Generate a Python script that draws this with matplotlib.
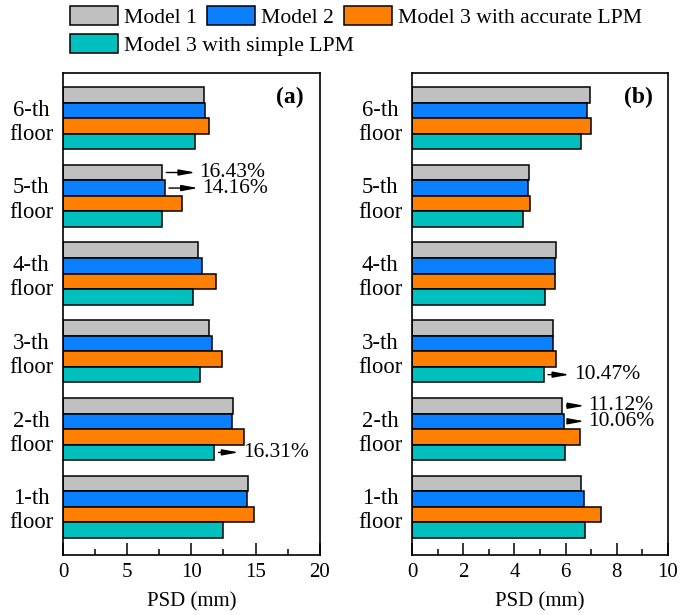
import matplotlib
matplotlib.use("Agg")
import matplotlib.pyplot as plt
from matplotlib.patches import Patch
from matplotlib.ticker import MultipleLocator
import numpy as np

plt.rcParams['font.family'] = ['Liberation Serif', 'DejaVu Serif']
plt.rcParams['font.size'] = 15

floors = ["1-th\nfloor", "2-th\nfloor", "3-th\nfloor", "4-th\nfloor", "5-th\nfloor", "6-th\nfloor"]
models = ["Model 1", "Model 2", "Model 3 with accurate LPM", "Model 3 with simple LPM"]
colors = ["#C0C0C0", "#0A80FF", "#FF8000", "#00BFBF"]

# panel (a), floors 1..6
model1_a = [14.4, 13.25, 11.4, 10.5, 7.72, 10.95]
model2_a = [14.3, 13.2, 11.6, 10.8, 7.93, 11.1]
model3acc_a = [14.87, 14.1, 12.4, 11.9, 9.24, 11.4]
model3simp_a = [12.5, 11.8, 10.65, 10.1, 7.73, 10.26]

# panel (b), floors 1..6
model1_b = [6.61, 5.87, 5.51, 5.61, 4.57, 6.95]
model2_b = [6.71, 5.92, 5.52, 5.57, 4.55, 6.85]
model3acc_b = [7.4, 6.58, 5.64, 5.57, 4.61, 7.0]
model3simp_b = [6.77, 5.99, 5.15, 5.2, 4.32, 6.61]

# annotations: panel, floor index, model index, label
ann_panel = [0, 0, 0, 1, 1, 1]
ann_floor = [4, 4, 1, 2, 1, 1]
ann_model = [0, 1, 3, 3, 0, 1]
ann_text = ["16.43%", "14.16%", "16.31%", "10.47%", "11.12%", "10.06%"]
ann_dx = [27, 27, 20.5, 21.5, 19, 18]   # text offset from bar end (pt)

fig = plt.figure(figsize=(6.82, 6.15), dpi=100)
ax_a = fig.add_axes([63 / 682, 1 - 555 / 615, 256.7 / 682, 482 / 615])
ax_b = fig.add_axes([412 / 682, 1 - 555 / 615, 256 / 682, 482 / 615])

panels = [
    (ax_a, [model1_a, model2_a, model3acc_a, model3simp_a], 20, 5, 2.5, "(a)"),
    (ax_b, [model1_b, model2_b, model3acc_b, model3simp_b], 10, 2, 1, "(b)"),
]

y = np.arange(len(floors))
h = 0.2
offsets = [1.5 * h, 0.5 * h, -0.5 * h, -1.5 * h]

for ax, series, xmax, major, minor, tag in panels:
    for vals, off, c in zip(series, offsets, colors):
        ax.barh(y + off, vals, height=h, color=c, edgecolor="black", linewidth=1.1)
    ax.set_xlim(0, xmax)
    ax.set_ylim(-0.62, 5.58)
    ax.set_yticks(y)
    ax.set_yticklabels(floors, multialignment="center", fontsize=16.3)
    ax.tick_params(axis="y", length=0, pad=7)
    ax.xaxis.set_major_locator(MultipleLocator(major))
    ax.xaxis.set_minor_locator(MultipleLocator(minor))
    ax.tick_params(axis="x", which="major", direction="in", length=9, width=1.1, pad=6)
    ax.tick_params(axis="x", which="minor", direction="in", length=4.5, width=1.1)
    ax.set_xlabel("PSD (mm)", labelpad=7)
    for s in ax.spines.values():
        s.set_linewidth(1.2)
    ax.text(0.885, 0.95, tag, transform=ax.transAxes, ha="center", va="center",
            fontweight="bold", fontsize=17)

for p, f, m, t, dx in zip(ann_panel, ann_floor, ann_model, ann_text, ann_dx):
    ax, series = panels[p][0], panels[p][1]
    val = series[m][f]
    ax.annotate(t, xy=(val, y[f] + offsets[m]), xytext=(dx, 0), textcoords="offset points",
                ha="left", va="center", fontsize=15.5,
                arrowprops=dict(arrowstyle="<|-,head_length=0.65,head_width=0.12",
                                color="black", lw=1.0, relpos=(0, 0.5),
                                shrinkA=-1, shrinkB=3, mutation_scale=15))

handles = [Patch(facecolor=c, edgecolor="black", linewidth=1.1) for c in colors]
leg_kw = dict(frameon=False, handlelength=2.2, handleheight=1.0, handletextpad=0.28,
              columnspacing=0.48, borderpad=0, borderaxespad=0, fontsize=15.6, loc="upper left")
leg1 = fig.legend(handles[:3], models[:3], ncol=3, bbox_to_anchor=(70 / 682, 1 - 6 / 615), **leg_kw)
leg2 = fig.legend(handles[3:], models[3:], ncol=1, bbox_to_anchor=(70 / 682, 1 - 34 / 615), **leg_kw)

fig.savefig("out.png", dpi=100)
